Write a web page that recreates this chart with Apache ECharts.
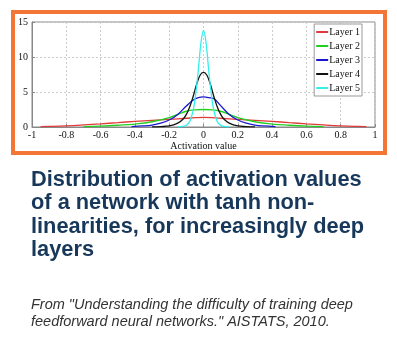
<!DOCTYPE html>
<html><head><meta charset="utf-8">
<script src="https://cdn.jsdelivr.net/npm/echarts@6/dist/echarts.min.js"></script>
<style>html,body{margin:0;padding:0;background:#fff;}#c{width:397px;height:341px;}</style>
</head><body><div id="c"></div>
<script>
const layerNames = ['Layer 1','Layer 2','Layer 3','Layer 4','Layer 5'];
const xTicks = [-1,-0.8,-0.6,-0.4,-0.2,0,0.2,0.4,0.6,0.8,1];
const yTicks = [0,5,10,15];

const l1x = [-0.95,-0.9,-0.8,-0.7,-0.6,-0.5,-0.4,-0.3,-0.2,-0.1,-0.05,0,0.05,0.1,0.2,0.3,0.4,0.5,0.6,0.7,0.8,0.9,0.95];
const l1y = [0.05,0.08,0.17,0.3,0.45,0.62,0.8,0.95,1.1,1.25,1.33,1.38,1.35,1.25,1.1,0.95,0.8,0.62,0.45,0.3,0.17,0.08,0.05];
const l2x = [-0.7,-0.6,-0.5,-0.4,-0.3,-0.2,-0.15,-0.1,-0.05,0,0.05,0.1,0.15,0.2,0.3,0.4,0.5,0.6,0.7];
const l2y = [0.05,0.12,0.25,0.42,0.75,1.35,1.8,2.25,2.45,2.5,2.45,2.25,1.8,1.35,0.75,0.42,0.25,0.12,0.05];
const l3x = [-0.42,-0.35,-0.3,-0.25,-0.2,-0.15,-0.1,-0.06,-0.03,0,0.03,0.06,0.1,0.15,0.2,0.25,0.3,0.35,0.42];
const l3y = [0.05,0.15,0.28,0.55,1.0,1.8,3.0,3.85,4.2,4.3,4.2,4.05,3.05,1.8,1.0,0.55,0.28,0.15,0.05];
const l4x = [-0.3,-0.25,-0.2,-0.15,-0.12,-0.1,-0.08,-0.06,-0.04,-0.02,0,0.02,0.04,0.06,0.08,0.1,0.12,0.15,0.2,0.25,0.3];
const l4y = [0.02,0.06,0.15,0.55,1.1,1.8,2.9,4.4,6.1,7.4,7.8,7.4,6.1,4.4,2.9,1.8,1.1,0.55,0.15,0.06,0.02];
const l5x = [-0.15,-0.12,-0.1,-0.08,-0.06,-0.045,-0.03,-0.015,0,0.015,0.03,0.045,0.06,0.08,0.1,0.12,0.15];
const l5y = [0.01,0.08,0.25,0.8,2.4,4.8,8.2,12.0,13.8,12.0,8.2,4.8,2.4,0.8,0.25,0.08,0.01];
const layerX = [l1x,l2x,l3x,l4x,l5x];
const layerY = [l1y,l2y,l3y,l4y,l5y];
const colors = ['#e03a3a','#22d022','#1818d0','#111111','#33f0f0'];

const titleText = 'Distribution of activation values\nof a network with tanh non-\nlinearities, for increasingly deep\nlayers';
const captionText = 'From "Understanding the difficulty of training deep\nfeedforward neural networks." AISTATS, 2010.';

const chart = echarts.init(document.getElementById('c'), null, {renderer:'canvas'});
const serif = '"Liberation Serif", "DejaVu Serif", serif';
chart.setOption({
  animation:false,
  backgroundColor:'#fff',
  title:[
    {text:titleText, left:31, top:168, padding:0, textStyle:{fontFamily:'"Liberation Sans", Arial, sans-serif', fontWeight:'bold', fontSize:21.8, lineHeight:23.5, color:'#17385a'}},
    {text:captionText, left:31, top:296, padding:0, textStyle:{fontFamily:'"Liberation Sans", Arial, sans-serif', fontStyle:'italic', fontWeight:'normal', fontSize:14.5, lineHeight:17, color:'#333'}}
  ],
  graphic:[{type:'rect', shape:{x:13,y:12,width:372,height:141}, style:{fill:'none', stroke:'#f47637', lineWidth:4}, z:100}],
  legend:{
    right:35, top:24, orient:'vertical', itemWidth:12, itemHeight:2, itemGap:2,
    backgroundColor:'#fff', borderColor:'#999', borderWidth:1, padding:[2,2,2,2],
    textStyle:{fontFamily:serif, fontSize:10, lineHeight:12, color:'#111', padding:[0,0,0,-4]},
    icon:'rect',
    data:layerNames
  },
  grid:{left:32, right:22, top:22, bottom:214, show:true, borderColor:'#888', borderWidth:1},
  xAxis:{type:'value', min:-1, max:1, interval:0.2,
    name:'Activation value', nameLocation:'middle', nameGap:13,
    nameTextStyle:{fontFamily:serif, fontSize:10, color:'#111'},
    axisLine:{show:true, onZero:false, lineStyle:{color:'#888'}},
    axisTick:{show:true, inside:true, length:3, lineStyle:{color:'#888'}},
    axisLabel:{fontFamily:serif, fontSize:10, color:'#111', margin:3,
      formatter:v=>{const t=xTicks.find(x=>Math.abs(x-v)<1e-6); return t===undefined?'':String(t);}},
    splitLine:{show:true, lineStyle:{color:'#ccc', type:[2,2]}}
  },
  yAxis:{type:'value', min:0, max:15, interval:5,
    axisLine:{show:true, onZero:false, lineStyle:{color:'#888'}},
    axisTick:{show:true, inside:true, length:3, lineStyle:{color:'#888'}},
    axisLabel:{fontFamily:serif, fontSize:10, color:'#111', margin:4,
      formatter:v=>yTicks.includes(v)?String(v):''},
    splitLine:{show:true, lineStyle:{color:'#ccc', type:[2,2]}}
  },
  series:layerNames.map((n,i)=>({
    name:n, type:'line', smooth:0.4, showSymbol:false, symbol:'none',
    data:layerX[i].map((x,j)=>[x, layerY[i][j]]),
    lineStyle:{color:colors[i], width:1.3}, itemStyle:{color:colors[i]}
  }))
});
</script></body></html>
